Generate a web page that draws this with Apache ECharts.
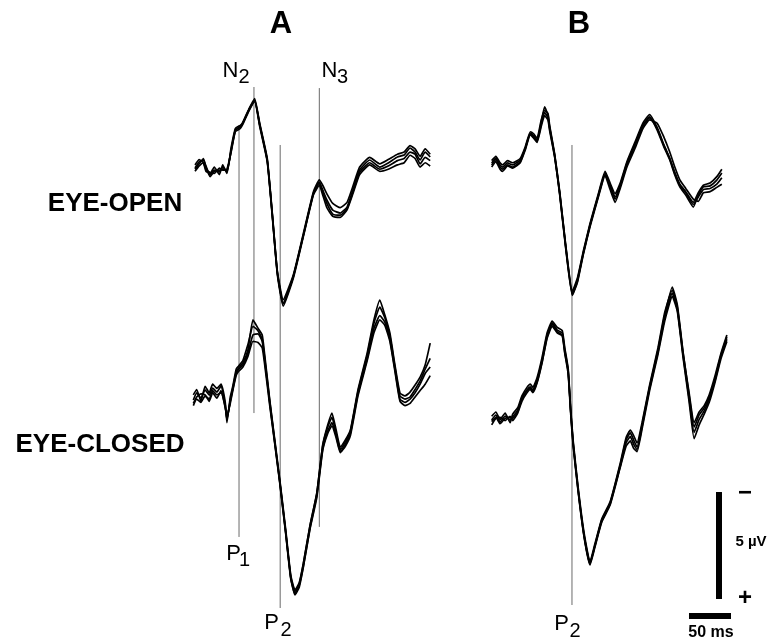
<!DOCTYPE html>
<html><head><meta charset="utf-8">
<script src="https://cdn.jsdelivr.net/npm/echarts@6/dist/echarts.min.js"></script>
<style>html,body{margin:0;padding:0;background:#fff}#c{width:769px;height:641px}</style>
</head><body><div id="c"></div>
<script>
// ---------- DATA (time in ms from trace start, amplitude in µV; negative plotted up) ----------
const panelNames = ['A', 'B'];
const rowNames = ['EYE-OPEN', 'EYE-CLOSED'];

// Panel A, eye-open
const tAOpen = [0,5,10,13,18,23,29,33,38,43,48,54,57,64,71,77,86,92,98,105,117,129,141,148,152,157,164,173,181,188,196,208,220,230,241,249,256,262,268,274,280];
const aOpen1 = [0.14,-0.14,-0.23,0.05,0.47,0.24,0.33,0.1,0.33,-0.7,-1.63,-1.77,-1.96,-2.56,-3.03,-1.87,-0.23,2.34,5.05,6.45,5.24,3.28,1.31,0.80,1.17,1.64,2.11,2.25,1.97,1.17,0.24,-0.23,0.10,-0.09,-0.37,-0.46,-0.79,-0.60,-0.23,-0.60,-0.37];
const aOpen2 = [0.3,0.05,-0.1,0.2,0.35,0.4,0.15,0.25,0.2,-0.6,-1.55,-1.7,-1.9,-2.5,-2.95,-1.8,-0.15,2.4,5.1,6.6,5.3,3.35,1.4,0.95,1.4,2.0,2.4,2.45,2.1,1.35,0.45,0.0,0.3,0.2,0.0,-0.1,-0.45,-0.3,0.1,-0.1,0.05];
const aOpen3 = [0.0,-0.25,-0.1,0.3,0.4,0.1,0.45,0.0,0.4,-0.8,-1.7,-1.85,-2.0,-2.6,-3.1,-1.95,-0.3,2.25,4.95,6.3,5.15,3.2,1.25,0.7,0.95,1.35,1.8,2.0,1.75,1.0,0.1,-0.35,-0.05,-0.25,-0.5,-0.6,-0.9,-0.75,-0.4,-0.75,-0.5];
const aOpen4 = [0.2,-0.05,-0.3,0.1,0.55,0.3,0.25,0.2,0.25,-0.65,-1.6,-1.8,-1.95,-2.55,-3.0,-1.9,-0.2,2.3,5.0,6.5,5.2,3.3,1.35,0.85,1.25,1.8,2.3,2.35,2.05,1.25,0.35,-0.1,0.2,0.05,-0.2,-0.3,-0.6,-0.5,-0.05,-0.35,-0.2];

// Panel A, eye-closed
const tAClosed = [-2,2,7,12,17,21,26,31,36,38,42,45,49,52,57,63,69,75,80,83,89,95,101,108,114,119,124,129,137,145,152,158,163,168,173,179,185,194,205,213,220,226,232,238,244,250,256,262,268,274,280];
const aClosed1 = [0.14,-0.19,0.05,-0.33,-0.09,-0.42,-0.23,-0.51,0.37,1.07,0.14,-0.42,-1.17,-1.36,-1.59,-2.2,-3.6,-3.22,-2.9,-1.96,0.14,2.01,3.88,6.21,8.32,9.02,8.69,7.76,5.98,4.49,2.24,1.31,0.75,1.54,2.34,2.01,1.54,-0.33,-2.06,-3.6,-4.53,-3.83,-2.99,-1.5,-0.19,-0.05,-0.23,-0.56,-0.93,-1.5,-2.52];
const aClosed2 = [0.3,0.0,-0.15,-0.1,0.2,-0.2,0.05,-0.3,0.5,0.9,0.3,-0.3,-1.0,-1.2,-1.4,-1.9,-2.6,-2.55,-2.3,-1.5,0.4,2.2,4.05,6.4,8.5,9.2,8.8,7.9,6.1,4.6,2.45,1.6,1.2,1.8,2.55,2.2,1.7,-0.15,-1.8,-3.2,-3.8,-3.5,-2.7,-1.3,0.1,0.25,0.1,-0.2,-0.6,-1.1,-1.4];
const aClosed3 = [-0.1,-0.35,0.2,-0.5,-0.2,-0.6,-0.4,-0.6,0.25,1.2,0.0,-0.5,-1.3,-1.45,-1.7,-2.45,-3.3,-3.1,-2.7,-1.8,0.2,2.1,3.95,6.3,8.4,9.1,8.75,7.8,6.0,4.5,2.3,1.4,0.95,1.7,2.45,2.1,1.6,-0.25,-1.95,-3.45,-4.2,-3.7,-2.85,-1.4,-0.05,0.1,0.0,-0.35,-0.75,-1.3,-1.8];
const aClosed4 = [0.4,0.1,0.25,-0.05,0.1,-0.3,-0.1,-0.2,0.45,1.0,0.2,-0.35,-1.1,-1.3,-1.5,-2.05,-2.9,-2.95,-2.6,-1.7,0.3,2.15,4.0,6.35,8.45,9.25,8.9,7.95,6.15,4.7,2.5,1.7,1.35,1.9,2.6,2.3,1.8,-0.05,-1.7,-3.0,-3.6,-3.35,-2.6,-1.2,0.2,0.4,0.3,0.0,-0.3,-0.6,-1.0];

// Panel B, eye-open
const tBOpen = [2,7,12,15,21,27,36,42,48,52,56,61,65,69,71,77,83,90,98,104,111,119,129,137,143,149,155,163,173,182,190,199,207,214,220,226,233,242,248,254,262,270,276];
const bOpen1 = [-0.09,-0.32,0,0.1,-0.09,0,-0.23,-0.79,-1.49,-1.35,-1.16,-2,-2.71,-2.33,-1.77,-0.46,1.31,3.74,5.99,5.38,4.12,2.81,1.41,0.38,0.94,1.5,0.94,-0.09,-1.02,-1.86,-2.24,-1.63,-0.84,-0.23,0.47,1.03,1.41,1.97,1.41,1.03,0.98,0.71,0.38];
const bOpen2 = [0.1,-0.15,0.2,0.3,0.05,0.15,-0.1,-0.7,-1.4,-1.25,-1.05,-1.8,-2.3,-2.1,-1.6,-0.35,1.4,3.85,6.1,5.5,4.2,2.9,1.5,0.5,1.15,1.75,1.1,0.1,-0.8,-1.7,-2.1,-1.95,-1.3,-0.6,0.1,0.7,1.1,1.6,1.7,1.3,1.25,1.05,0.9];
const bOpen3 = [-0.2,-0.4,-0.1,0.0,-0.2,-0.1,-0.3,-0.85,-1.55,-1.45,-1.25,-2.1,-2.55,-2.4,-1.85,-0.5,1.25,3.7,5.9,5.3,4.05,2.75,1.35,0.3,0.85,1.35,0.85,-0.15,-1.1,-1.95,-2.35,-1.75,-0.95,-0.3,0.35,0.9,1.25,1.75,1.3,0.95,0.85,0.55,0.2];
const bOpen4 = [0.0,-0.25,0.1,0.2,0.0,0.1,-0.15,-0.75,-1.45,-1.3,-1.1,-1.9,-2.45,-2.2,-1.7,-0.4,1.35,3.8,6.05,5.45,4.15,2.85,1.45,0.45,1.0,1.6,1.0,0.0,-0.95,-1.8,-2.2,-1.7,-0.9,-0.3,0.4,0.95,1.3,1.85,1.5,1.15,1.1,0.9,0.6];

// Panel B, eye-closed
const tBClosed = [2,7,12,18,24,27,33,38,44,48,51,56,62,68,74,80,86,89,93,96,99,105,112,119,125,133,143,155,162,167,171,175,181,190,200,208,217,223,230,237,243,249,255,261,268,275,282];
const bClosed1 = [1.07,0.84,1.17,0.89,1.07,0.93,0.61,0.05,-0.33,-0.47,-0.33,-0.79,-1.73,-2.9,-3.46,-3.13,-2.99,-2.2,-1.26,0.61,2.15,4.35,6.45,7.76,6.92,5.75,4.95,3.18,2.01,1.68,2.01,2.34,1.31,-0.47,-2.2,-3.83,-5.14,-4.3,-2.06,-0.09,1.4,0.84,0.51,0,-0.89,-1.96,-2.8];
const bClosed2 = [1.3,1.0,0.95,1.1,0.9,1.1,0.75,0.2,-0.2,-0.35,-0.2,-0.65,-1.6,-2.75,-3.3,-3.0,-2.85,-2.05,-1.1,0.75,2.3,4.45,6.55,7.85,7.0,5.85,5.05,3.3,2.3,2.05,2.4,2.55,1.5,-0.3,-2.0,-3.55,-4.7,-4.0,-1.8,0.2,1.95,1.3,0.8,0.25,-0.7,-1.8,-2.6];
const bClosed3 = [0.9,0.7,1.05,0.75,1.2,0.8,0.5,-0.05,-0.45,-0.6,-0.45,-0.9,-1.85,-3.0,-3.55,-3.25,-3.1,-2.3,-1.35,0.5,2.05,4.25,6.35,7.7,6.85,5.7,4.9,3.1,1.9,1.55,1.8,2.15,1.2,-0.55,-2.3,-3.95,-5.0,-4.2,-2.0,-0.2,1.2,0.7,0.4,-0.1,-1.0,-2.05,-2.9];
const bClosed4 = [1.15,0.95,1.25,1.0,0.95,1.0,0.7,0.1,-0.3,-0.4,-0.25,-0.7,-1.65,-2.8,-3.4,-3.05,-2.9,-2.1,-1.2,0.65,2.2,4.4,6.5,7.8,6.95,5.8,5.0,3.25,2.15,1.85,2.2,2.45,1.4,-0.4,-2.1,-3.7,-4.85,-4.1,-1.9,0.05,1.65,1.05,0.65,0.1,-0.8,-1.9,-2.7];

// Latency markers: [label letter, subscript, latency ms, top µV (eye-open row), bottom µV (eye-closed row)]
const markersA = [['P','1',52.4,-1.86,6.54],['N','2',70.2,-3.64,0.75],['P','2',101.4,-0.93,9.86],['N','3',148,-3.59,6.07]];
const markersB = [['P','2',97.6,-0.93,9.72]];

// Calibration bars
const scaleMs = 50, scaleUv = 5;

// ---------- LAYOUT ----------
const PXMS = 0.84, PXUV = 21.4;
const XMIN = -10, XMAX = 290;
const rowRange = [[-3.8, 7], [-5.5, 10.5]];
const gridDefs = [
  [186.6, 164.9, 0], [186.6, 397, 1], [481.6, 164.9, 0], [481.6, 397, 1]
];
const grids = [], xAxes = [], yAxes = [];
gridDefs.forEach(function (g, i) {
  const r = rowRange[g[2]];
  grids.push({left: g[0], top: g[1] + r[0] * PXUV, width: (XMAX - XMIN) * PXMS, height: (r[1] - r[0]) * PXUV, containLabel: false, outerBoundsMode: 'none'});
  xAxes.push({type: 'value', gridIndex: i, min: XMIN, max: XMAX, show: false});
  yAxes.push({type: 'value', gridIndex: i, min: r[0], max: r[1], inverse: true, show: false});
});

const panels = [
  [tAOpen, [aOpen1, aOpen2, aOpen3, aOpen4]],
  [tAClosed, [aClosed1, aClosed2, aClosed3, aClosed4]],
  [tBOpen, [bOpen1, bOpen2, bOpen3, bOpen4]],
  [tBClosed, [bClosed1, bClosed2, bClosed3, bClosed4]]
];
const series = [];
panels.forEach(function (p, gi) {
  p[1].forEach(function (vals, k) {
    series.push({
      type: 'line', xAxisIndex: gi, yAxisIndex: gi, symbol: 'none', smooth: 0.15,
      data: p[0].map(function (t, j) { return [t, vals[j]]; }),
      lineStyle: {color: '#000', width: 1.7}, z: 3, silent: true
    });
  });
});

const chart = echarts.init(document.getElementById('c'), null, {renderer: 'canvas'});
chart.setOption({
  animation: false, backgroundColor: '#fff',
  grid: grids, xAxis: xAxes, yAxis: yAxes, series: series
});

// ---------- annotations ----------
const FONT = '"Liberation Sans", Arial, Helvetica, sans-serif';
const g = [];
function txt(x, y, s, size, bold, align) {
  g.push({type: 'text', x: x, y: y, z: 10, silent: true,
    style: {text: s, font: (bold ? 'bold ' : '') + size + 'px ' + FONT, fill: '#000', align: align || 'center', verticalAlign: 'middle'}});
}
function vline(gTop, gBot, t, vTop, vBot, color, w) {
  const p1 = chart.convertToPixel({gridIndex: gTop}, [t, vTop]);
  const p2 = chart.convertToPixel({gridIndex: gBot}, [t, vBot]);
  g.push({type: 'line', z: 1, silent: true, shape: {x1: p1[0], y1: p1[1], x2: p2[0], y2: p2[1]}, style: {stroke: color, lineWidth: w}});
}
markersA.forEach(function (m) { vline(0, 1, m[2], m[3], m[4], '#6a6a6a', 1); });
markersB.forEach(function (m) { vline(2, 3, m[2], m[3], m[4], '#6a6a6a', 1); });

// marker labels
txt(230.5, 71, 'N', 22, false); txt(244, 77, '2', 20, false);
txt(329.5, 71, 'N', 22, false); txt(342.5, 77, '3', 20, false);
txt(233.5, 554, 'P', 22, false); txt(244.5, 560, '1', 20, false);
txt(271.5, 623, 'P', 22, false); txt(286, 630, '2', 20, false);
txt(561.5, 624, 'P', 22, false); txt(575, 631, '2', 20, false);

// panel letters and row labels
txt(281, 24, panelNames[0], 31, true);
txt(579, 24, panelNames[1], 31, true);
txt(115, 204, rowNames[0], 26, true);
txt(100, 445, rowNames[1], 26, true);

// calibration bars (drawn in panel B eye-closed coordinates)
const vb1 = chart.convertToPixel({gridIndex: 3}, [272.6, 4.44]);
const vb2 = chart.convertToPixel({gridIndex: 3}, [272.6, 4.44 + scaleUv]);
g.push({type: 'line', z: 5, silent: true, shape: {x1: vb1[0], y1: vb1[1], x2: vb2[0], y2: vb2[1]}, style: {stroke: '#000', lineWidth: 6}});
const hb1 = chart.convertToPixel({gridIndex: 3}, [236.9, 10.23]);
const hb2 = chart.convertToPixel({gridIndex: 3}, [236.9 + scaleMs, 10.23]);
g.push({type: 'line', z: 5, silent: true, shape: {x1: hb1[0], y1: hb1[1], x2: hb2[0], y2: hb2[1]}, style: {stroke: '#000', lineWidth: 6}});
txt(745, 493, '\u2212', 24, true);
txt(745, 598, '+', 24, true);
txt(751, 542, scaleUv + ' \u00b5V', 15, true);
txt(711, 633, scaleMs + ' ms', 16, true);

chart.setOption({graphic: {elements: g}});
</script>
</body></html>
